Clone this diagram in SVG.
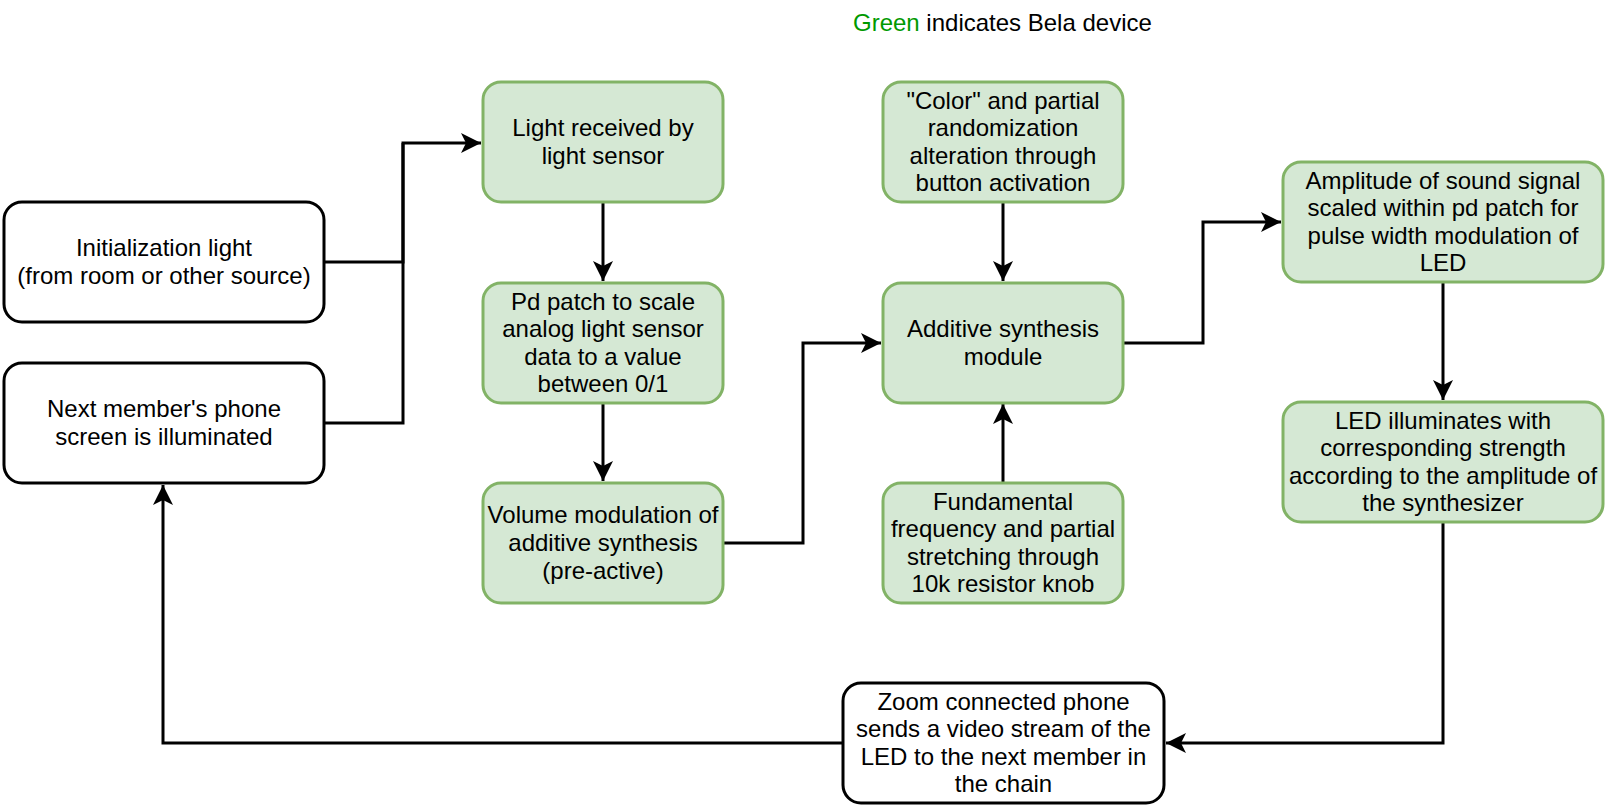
<svg xmlns="http://www.w3.org/2000/svg" width="1606" height="806" viewBox="0 0 1606 806">
<style>
.bw{fill:#ffffff;stroke:#000000;stroke-width:3}
.bg{fill:#d5e8d4;stroke:#82b366;stroke-width:3}
.t{font-family:"Liberation Sans",Arial,Helvetica,sans-serif;font-size:24px;fill:#000000;text-anchor:middle}
.c{fill:none;stroke:#000000;stroke-width:3}
</style>
<defs>
<marker id="arr" markerUnits="userSpaceOnUse" markerWidth="22" markerHeight="22" refX="20" refY="10" orient="auto" viewBox="0 0 22 22">
<path d="M0,0 L20,10 L0,20 L5,10 Z" fill="#000000"/>
</marker>
</defs>
<rect width="1606" height="806" fill="#ffffff"/>
<text x="853" y="31" font-family="Liberation Sans, Arial, sans-serif" font-size="24" fill="#000000"><tspan fill="#009900">Green</tspan> indicates Bela device</text>

<g id="connectors">
<path class="c" d="M324,262 H403 V143 H481" marker-end="url(#arr)"/>
<path class="c" d="M324,423 H403 V143"/>
<path class="c" d="M603,202 V281" marker-end="url(#arr)"/>
<path class="c" d="M603,402 V481" marker-end="url(#arr)"/>
<path class="c" d="M723,543 H803 V343 H881" marker-end="url(#arr)"/>
<path class="c" d="M1003,202 V281" marker-end="url(#arr)"/>
<path class="c" d="M1003,483 V404" marker-end="url(#arr)"/>
<path class="c" d="M1123,343 H1203 V222 H1281" marker-end="url(#arr)"/>
<path class="c" d="M1443,282 V400" marker-end="url(#arr)"/>
<path class="c" d="M1443,522 V743 H1166" marker-end="url(#arr)"/>
<path class="c" d="M843,743 H163 V485" marker-end="url(#arr)"/>
</g>

<g id="init">
<rect class="bw" x="4" y="202" width="320" height="120" rx="18"/>
<text class="t" x="164" y="256.2">Initialization light</text>
<text class="t" x="164" y="283.8">(from room or other source)</text>
</g>
<g id="next">
<rect class="bw" x="4" y="363" width="320" height="120" rx="18"/>
<text class="t" x="164" y="417.2">Next member's phone</text>
<text class="t" x="164" y="444.8">screen is illuminated</text>
</g>
<g id="light">
<rect class="bg" x="483" y="82" width="240" height="120" rx="18"/>
<text class="t" x="603" y="136.2">Light received by</text>
<text class="t" x="603" y="163.8">light sensor</text>
</g>
<g id="pd">
<rect class="bg" x="483" y="283" width="240" height="120" rx="18"/>
<text class="t" x="603" y="309.6">Pd patch to scale</text>
<text class="t" x="603" y="337.2">analog light sensor</text>
<text class="t" x="603" y="364.8">data to a value</text>
<text class="t" x="603" y="392.4">between 0/1</text>
</g>
<g id="volume">
<rect class="bg" x="483" y="483" width="240" height="120" rx="18"/>
<text class="t" x="603" y="523.4">Volume modulation of</text>
<text class="t" x="603" y="551">additive synthesis</text>
<text class="t" x="603" y="578.6">(pre-active)</text>
</g>
<g id="color">
<rect class="bg" x="883" y="82" width="240" height="120" rx="18"/>
<text class="t" x="1003" y="108.6">"Color" and partial</text>
<text class="t" x="1003" y="136.2">randomization</text>
<text class="t" x="1003" y="163.8">alteration through</text>
<text class="t" x="1003" y="191.4">button activation</text>
</g>
<g id="additive">
<rect class="bg" x="883" y="283" width="240" height="120" rx="18"/>
<text class="t" x="1003" y="337.2">Additive synthesis</text>
<text class="t" x="1003" y="364.8">module</text>
</g>
<g id="fundamental">
<rect class="bg" x="883" y="483" width="240" height="120" rx="18"/>
<text class="t" x="1003" y="509.6">Fundamental</text>
<text class="t" x="1003" y="537.2">frequency and partial</text>
<text class="t" x="1003" y="564.8">stretching through</text>
<text class="t" x="1003" y="592.4">10k resistor knob</text>
</g>
<g id="amplitude">
<rect class="bg" x="1283" y="162" width="320" height="120" rx="18"/>
<text class="t" x="1443" y="188.6">Amplitude of sound signal</text>
<text class="t" x="1443" y="216.2">scaled within pd patch for</text>
<text class="t" x="1443" y="243.8">pulse width modulation of</text>
<text class="t" x="1443" y="271.4">LED</text>
</g>
<g id="led">
<rect class="bg" x="1283" y="402" width="320" height="120" rx="18"/>
<text class="t" x="1443" y="428.6">LED illuminates with</text>
<text class="t" x="1443" y="456.2">corresponding strength</text>
<text class="t" x="1443" y="483.8">according to the amplitude of</text>
<text class="t" x="1443" y="511.4">the synthesizer</text>
</g>
<g id="zoom">
<rect class="bw" x="843" y="683" width="321" height="120" rx="18"/>
<text class="t" x="1003.5" y="709.6">Zoom connected phone</text>
<text class="t" x="1003.5" y="737.2">sends a video stream of the</text>
<text class="t" x="1003.5" y="764.8">LED to the next member in</text>
<text class="t" x="1003.5" y="792.4">the chain</text>
</g>
</svg>
